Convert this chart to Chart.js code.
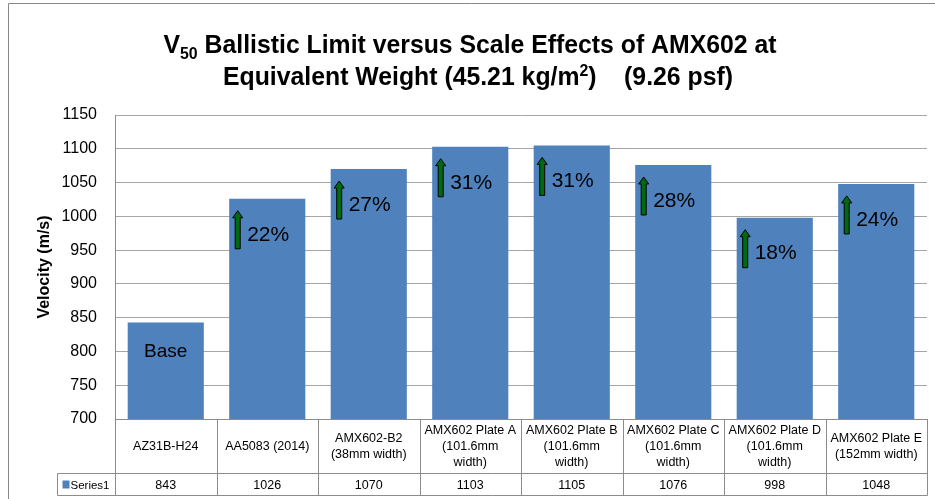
<!DOCTYPE html>
<html>
<head>
<meta charset="utf-8">
<script src="https://cdn.jsdelivr.net/npm/chart.js@4/dist/chart.umd.min.js"></script>
<style>
  html, body { margin: 0; padding: 0; background: #fff; }
  #wrap { width: 935px; height: 499px; }
</style>
</head>
<body>
<div id="wrap"><canvas id="c" width="935" height="499"></canvas></div>
<script>
// ---- data ----
const categories = [
  ['AZ31B-H24'],
  ['AA5083 (2014)'],
  ['AMX602-B2', '(38mm width)'],
  ['AMX602 Plate A', '(101.6mm', 'width)'],
  ['AMX602 Plate B', '(101.6mm', 'width)'],
  ['AMX602 Plate C', '(101.6mm', 'width)'],
  ['AMX602 Plate D', '(101.6mm', 'width)'],
  ['AMX602 Plate E', '(152mm width)']
];
const velocities = [843, 1026, 1070, 1103, 1105, 1076, 998, 1048];
const gainLabels = ['Base', '22%', '27%', '31%', '31%', '28%', '18%', '24%'];
const seriesName = 'Series1';
const yMin = 700, yMax = 1150, yStep = 50;
const yTitle = 'Velocity (m/s)';
const titleLine1 = [['V', 'n'], ['50', 'sub'], [' Ballistic Limit versus Scale Effects of AMX602 at', 'n']];
const titleLine2 = [['Equivalent Weight (45.21 kg/m', 'n'], ['2', 'sup'], [')    (9.26 psf)', 'n']];

const BAR = '#4F81BD';
const GRID = '#a6a6a6';
const LINE = '#8c8c8c';
const FONT = "'Liberation Sans', Arial, sans-serif";

const bgPlugin = {
  id: 'bg',
  beforeDraw(chart) {
    const ctx = chart.ctx;
    ctx.save();
    ctx.fillStyle = '#fff';
    ctx.fillRect(0, 0, chart.width, chart.height);
    ctx.restore();
  }
};

function drawRich(ctx, segs, cx, baseY, size, sx) {
  const big = 'bold ' + size + 'px ' + FONT;
  const small = 'bold ' + Math.round(size * 0.62) + 'px ' + FONT;
  let w = 0;
  const widths = segs.map(s => { ctx.font = s[1] === 'n' ? big : small; const m = ctx.measureText(s[0]).width; w += m; return m; });
  ctx.save();
  ctx.translate(cx, baseY);
  ctx.scale(sx, 1);
  let x = -w / 2;
  ctx.textBaseline = 'alphabetic';
  ctx.textAlign = 'left';
  ctx.fillStyle = '#000';
  segs.forEach((s, i) => {
    ctx.font = s[1] === 'n' ? big : small;
    let dy = 0;
    if (s[1] === 'sub') dy = size * 0.22;
    if (s[1] === 'sup') dy = -size * 0.38;
    ctx.fillText(s[0], x, dy);
    x += widths[i];
  });
  ctx.restore();
  return w;
}

function measureRich(ctx, segs, size) {
  const big = 'bold ' + size + 'px ' + FONT;
  const small = 'bold ' + Math.round(size * 0.62) + 'px ' + FONT;
  let w = 0;
  segs.forEach(s => { ctx.font = s[1] === 'n' ? big : small; w += ctx.measureText(s[0]).width; });
  return w;
}

const annoPlugin = {
  id: 'anno',
  afterDatasetsDraw(chart) {
    const ctx = chart.ctx;
    const meta = chart.getDatasetMeta(0);
    ctx.save();
    meta.data.forEach((bar, i) => {
      const top = bar.y;
      const left = bar.x - bar.width / 2;
      const label = gainLabels[i];
      if (!label) return;
      if (i === 0) {
        ctx.font = '19px ' + FONT;
        ctx.fillStyle = '#000';
        ctx.textAlign = 'center';
        ctx.textBaseline = 'middle';
        ctx.fillText(label, bar.x, top + 29);
        return;
      }
      // arrow
      const ax = left + 8.5;
      const aTop = top + 12, aBot = top + 50;
      const sw = 2.5, hw = 5, hh = 7;
      ctx.beginPath();
      ctx.moveTo(ax, aTop);
      ctx.lineTo(ax + hw, aTop + hh);
      ctx.lineTo(ax + sw, aTop + hh);
      ctx.lineTo(ax + sw, aBot);
      ctx.lineTo(ax - sw, aBot);
      ctx.lineTo(ax - sw, aTop + hh);
      ctx.lineTo(ax - hw, aTop + hh);
      ctx.closePath();
      ctx.fillStyle = '#006a12';
      ctx.fill();
      ctx.lineWidth = 1;
      ctx.strokeStyle = '#000';
      ctx.stroke();
      ctx.font = '21px ' + FONT;
      ctx.fillStyle = '#000';
      ctx.textAlign = 'left';
      ctx.textBaseline = 'middle';
      ctx.fillText(label, left + 18, top + 36);
    });
    ctx.restore();
  }
};

const tablePlugin = {
  id: 'table',
  afterDraw(chart) {
    const ctx = chart.ctx;
    const area = chart.chartArea;
    const xs = chart.scales.x;
    const n = categories.length;
    const colW = (area.right - area.left) / n;
    const b = Math.round(area.bottom) + 0.5;
    const headH = 54, valH = 22;
    const legLeft = Math.round(area.left) - 58 + 0.5;
    ctx.save();
    ctx.strokeStyle = LINE;
    ctx.lineWidth = 1;
    ctx.beginPath();
    for (let i = 0; i <= n; i++) {
      const x = Math.round(area.left + i * colW) + 0.5;
      ctx.moveTo(x, b);
      ctx.lineTo(x, b + headH + valH);
    }
    ctx.moveTo(legLeft, b + headH);
    ctx.lineTo(Math.round(area.right) + 0.5, b + headH);
    ctx.moveTo(legLeft, b + headH + valH);
    ctx.lineTo(Math.round(area.right) + 0.5, b + headH + valH);
    ctx.moveTo(legLeft, b + headH);
    ctx.lineTo(legLeft, b + headH + valH);
    ctx.stroke();

    ctx.fillStyle = '#000';
    ctx.textAlign = 'center';
    ctx.textBaseline = 'middle';
    ctx.font = '12.5px ' + FONT;
    const lh = 16;
    categories.forEach((lines, i) => {
      const cx = xs.getPixelForValue(i);
      const cy = b + headH / 2;
      const y0 = cy - (lines.length - 1) * lh / 2;
      lines.forEach((t, k) => ctx.fillText(t, cx, y0 + k * lh));
      ctx.fillText(String(velocities[i]), cx, b + headH + valH / 2 + 1);
    });
    // legend key
    ctx.fillStyle = BAR;
    ctx.fillRect(legLeft + 5, b + headH + 7, 7, 8);
    ctx.fillStyle = '#000';
    ctx.textAlign = 'left';
    ctx.font = '11.5px ' + FONT;
    ctx.fillText(seriesName, legLeft + 13, b + headH + valH / 2 + 1);

    // title
    const size = 25;
    const w1 = measureRich(ctx, titleLine1, size);
    const sx = 613 / w1;
    drawRich(ctx, titleLine1, 470, 53, size, sx);
    drawRich(ctx, titleLine2, 478, 85, size, sx);

    // outer frame
    ctx.strokeStyle = '#888';
    ctx.beginPath();
    ctx.moveTo(8.5, chart.height);
    ctx.lineTo(8.5, 3.5);
    ctx.lineTo(chart.width, 3.5);
    ctx.stroke();
    ctx.restore();
  }
};

new Chart(document.getElementById('c'), {
  type: 'bar',
  data: {
    labels: categories,
    datasets: [{
      label: seriesName,
      data: velocities,
      backgroundColor: BAR,
      borderWidth: 0,
      barPercentage: 0.75,
      categoryPercentage: 1.0
    }]
  },
  options: {
    responsive: false,
    animation: false,
    devicePixelRatio: 1,
    layout: { padding: { left: 0, top: 115, right: 8, bottom: 0 } },
    plugins: { legend: { display: false }, title: { display: false }, tooltip: { enabled: false } },
    scales: {
      x: {
        ticks: { display: false },
        grid: { display: false },
        border: { display: true, color: LINE },
        afterFit(scale) { scale.height = 80; }
      },
      y: {
        min: yMin, max: yMax,
        ticks: { stepSize: yStep, padding: 18, color: '#000', font: { family: FONT, size: 16 }, callback: v => String(v) },
        grid: { color: GRID, drawTicks: false },
        border: { display: true, color: LINE },
        title: { display: true, text: yTitle, color: '#000', font: { family: FONT, size: 16, weight: 'bold' }, padding: { top: 35, bottom: 0 } },
        afterFit(scale) { scale.width = 115; }
      }
    }
  },
  plugins: [bgPlugin, annoPlugin, tablePlugin]
});
</script>
</body>
</html>
